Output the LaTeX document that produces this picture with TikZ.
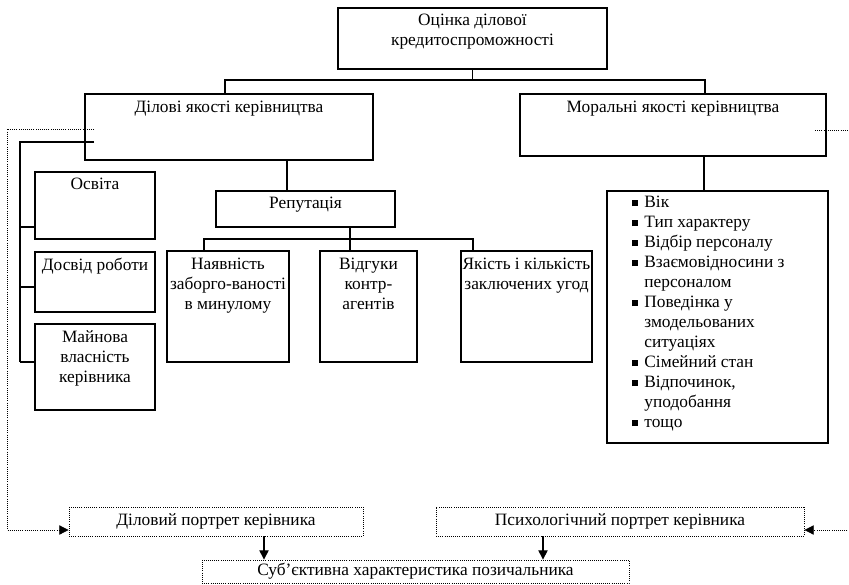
\documentclass[tikz,border=0pt]{standalone}
\usepackage{fontspec}
\setmainfont{Liberation Serif}
\usetikzlibrary{positioning,fit,arrows.meta}
\tikzset{>={Triangle[length=7pt,width=7pt]}}
\tikzset{
  box/.style={draw,line width=0.8pt,inner sep=0pt},
  dotbox/.style={draw,densely dotted,line width=0.6pt,inner sep=0pt},
  txt/.style={align=center,inner sep=0pt,font=\fontsize{13}{15}\selectfont},
  link/.style={line width=0.8pt},
  dotlink/.style={densely dotted,line width=0.6pt}
}
\newcommand\kvadr{\rule[1pt]{4.5pt}{4.5pt}}

\begin{document}
\begin{tikzpicture}[x=0.75pt,y=-0.75pt]
    \useasboundingbox (0,0) rectangle (849,585);

    % upper level
    \node[box,fit={(338,8) (607,69)}] (ocin) {};
    \node[txt,below=4.5pt of ocin.north] (ocintxt) {Оцінка ділової\\кредитоспроможності};
    \node[box,fit={(85,94) (373,160)}] (dil) {};
    \node[txt,below=5.5pt of dil.north] (diltxt) {Ділові якості керівництва};
    \node[box,fit={(520,94) (826,156)}] (mor) {};
    \node[txt,below=5.5pt of mor.north] (mortxt) {Моральні якості керівництва};

    % left column
    \node[box,fit={(35,172) (155,239)}] (osv) {};
    \node[txt,below=5pt of osv.north] (osvtxt) {Освіта};
    \node[box,fit={(35,252) (155,312)}] (dosv) {};
    \node[txt,below=5pt of dosv.north] (dosvtxt) {Досвід роботи};
    \node[box,fit={(35,324) (155,410)}] (majn) {};
    \node[txt,below=5pt of majn.north] (majntxt) {Майнова\\власність\\керівника};

    % reputation
    \node[box,fit={(216,191) (395,227)}] (rep) {};
    \node[txt,below=5pt of rep.north] (reptxt) {Репутація};
    \node[box,fit={(167,251) (289,362)}] (borg) {};
    \node[txt,below=5.5pt of borg.north] (borgtxt) {Наявність\\заборго-ваності\\в минулому};
    \node[box,fit={(320,251) (417,362)}] (vidg) {};
    \node[txt,below=5.5pt of vidg.north] (vidgtxt) {Відгуки\\контр-\\агентів};
    \node[box,fit={(461,251) (592,362)}] (ugod) {};
    \node[txt,below=5.5pt of ugod.north] (ugodtxt) {Якість і кількість\\заключених угод};

    % moral list
    \node[box,fit={(607,191) (828,443)}] (spys) {};
    \node[txt,below right=2pt and 18.75pt of spys.north west] (spystxt) {%
      \begin{tabular}{@{}l@{\hspace{5pt}}l@{}}
        \kvadr & Вік\\
        \kvadr & Тип характеру\\
        \kvadr & Відбір персоналу\\
        \kvadr & Взаємовідносини з\\
               & персоналом\\
        \kvadr & Поведінка у\\
               & змодельованих\\
               & ситуаціях\\
        \kvadr & Сімейний стан\\
        \kvadr & Відпочинок,\\
               & уподобання\\
        \kvadr & тощо
      \end{tabular}};

    % portraits
    \node[dotbox,fit={(69,507) (363,536)}] (dport) {};
    \node[txt] (dporttxt) at (dport) {Діловий портрет керівника};
    \node[dotbox,fit={(436,507) (804,536)}] (pport) {};
    \node[txt] (pporttxt) at (pport) {Психологічний портрет керівника};
    \node[dotbox,fit={(202,560) (629,583)}] (subj) {};
    \node[txt] (subjtxt) at (subj) {Суб’єктивна характеристика позичальника};

    % solid links
    \coordinate (b1) at (225,80);
    \coordinate (b2) at (705,80);
    \draw[link] (ocin.south) -- (ocin.south |- b1);
    \draw[link] (dil.north -| b1) -- (b1) -- (b2) -- (mor.north -| b2);

    \coordinate (lb) at (20,142);
    \coordinate (lbe) at (94,142);
    \coordinate (br1) at (20,227);
    \coordinate (br2) at (20,287);
    \coordinate (br3) at (20,362);
    \draw[link] (lbe) -- (lb) -- (br3);
    \draw[link] (br1) -- (osv.west |- br1);
    \draw[link] (br2) -- (dosv.west |- br2);
    \draw[link] (br3) -- (majn.west |- br3);

    \coordinate (s1) at (287,160);
    \draw[link] (dil.south -| s1) -- (rep.north -| s1);
    \coordinate (r1) at (204,239);
    \coordinate (r2) at (350,239);
    \coordinate (r3) at (473,239);
    \draw[link] (rep.south -| r2) -- (r2);
    \draw[link] (borg.north -| r1) -- (r1) -- (r3) -- (ugod.north -| r3);
    \draw[link] (r2) -- (vidg.north -| r2);

    \coordinate (m1) at (704,156);
    \draw[link] (mor.south -| m1) -- (spys.north -| m1);

    % dotted links
    \coordinate (dl1) at (94,129);
    \coordinate (dl2) at (7,129);
    \coordinate (dl3) at (7,530);
    \draw[dotlink,->] (dl1) -- (dl2) -- (dl3) -- (dport.west |- dl3);
    \coordinate (dr1) at (815,130);
    \coordinate (dr2) at (853,130);
    \coordinate (dr3) at (853,530);
    \draw[dotlink,->] (dr1) -- (dr2) -- (dr3) -- (pport.east |- dr3);

    % arrows to result
    \coordinate (a1) at (264,536);
    \coordinate (a2) at (543,536);
    \draw[link,->] (dport.south -| a1) -- (subj.north -| a1);
    \draw[link,->] (pport.south -| a2) -- (subj.north -| a2);
\end{tikzpicture}
\end{document}
